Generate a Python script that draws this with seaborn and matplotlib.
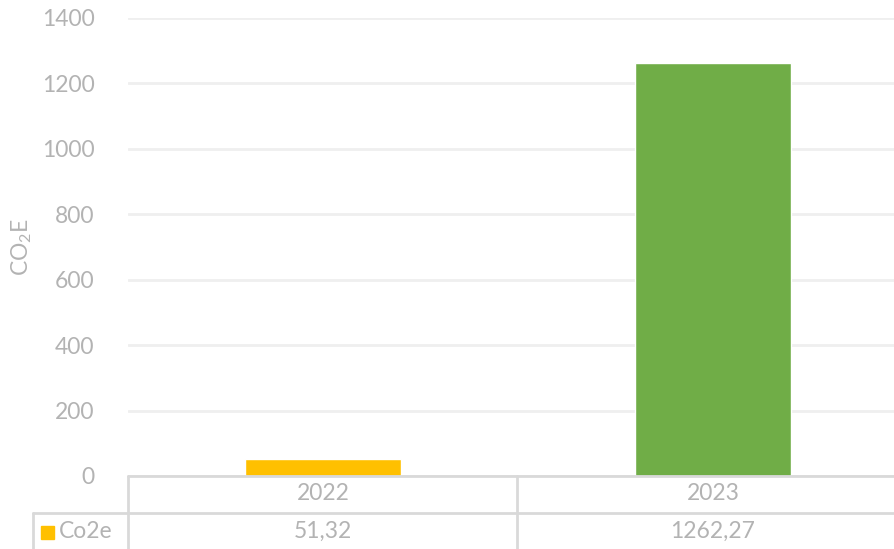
import matplotlib
matplotlib.use('Agg')
import matplotlib.pyplot as plt
import seaborn as sns
import pandas as pd
from matplotlib.transforms import blended_transform_factory
from matplotlib.patches import Rectangle
from matplotlib.lines import Line2D

# ---- data ----
years = ['2022', '2023']
values = [51.32, 1262.27]
value_labels = ['51,32', '1262,27']
bar_colors = ['#FFC000', '#70AD47']
series_name = 'Co2e'
y_ticks = [0, 200, 400, 600, 800, 1000, 1200, 1400]

sns.set_theme(style='white')
plt.rcParams['font.family'] = ['Lato', 'DejaVu Sans']

TXT = '#b3b3b3'
LINE = '#d9d9d9'
FS = 16.5
WT = 'normal'

W, H = 894, 549
fig = plt.figure(figsize=(W / 100, H / 100), dpi=100)
ax = fig.add_axes([128 / W, (H - 476) / H, 780 / W, 458 / H])

df = pd.DataFrame({'year': years, 'value': values})
sns.barplot(data=df, x='year', y='value', hue='year', palette=bar_colors,
            width=0.4, saturation=1, legend=False, ax=ax)

ax.set_xlim(-0.5, 1.5)
ax.set_ylim(0, 1400)
ax.set_yticks(y_ticks)
ax.set_yticklabels([str(t) for t in y_ticks])
ax.grid(axis='y', color='#efefef', lw=2)
ax.set_axisbelow(True)
for s in ax.spines.values():
    s.set_visible(False)
ax.tick_params(axis='y', length=0, pad=24, labelsize=FS, labelcolor=TXT)
for lab in ax.get_yticklabels():
    lab.set_fontweight(WT)
ax.set_xticks([])
ax.set_xlabel('')
ax.set_ylabel(r'CO$_\mathregular{2}$E', fontsize=FS, color=TXT, fontweight=WT)
ax.yaxis.set_label_coords((34 - 128) / 780, (476 - 247) / 458)

# ---- data table ----
def fx(px):
    return px / W

def fy(py):
    return (H - py) / H

lines = [
    ((128, 894), (476, 476)),
    ((33, 894), (513, 513)),
    ((128, 128), (476, 549)),
    ((517, 517), (476, 549)),
    ((33, 33), (513, 549)),
]
for xs, ys in lines:
    fig.add_artist(Line2D([fx(x) for x in xs], [fy(y) for y in ys],
                          color=LINE, lw=2, transform=fig.transFigure))

trans = blended_transform_factory(ax.transData, fig.transFigure)
for i, (yr, vl) in enumerate(zip(years, value_labels)):
    ax.text(i, fy(494), yr, transform=trans, ha='center', va='center',
            fontsize=FS, color=TXT, fontweight=WT, clip_on=False)
    ax.text(i, fy(531), vl, transform=trans, ha='center', va='center',
            fontsize=FS, color=TXT, fontweight=WT, clip_on=False)

fig.add_artist(Rectangle((fx(41), fy(539)), 13 / W, 13 / H, color=bar_colors[0],
                         transform=fig.transFigure))
fig.text(fx(59), fy(531), series_name, ha='left', va='center', fontsize=FS,
         color=TXT, fontweight=WT)

fig.savefig('out.png', dpi=100)
